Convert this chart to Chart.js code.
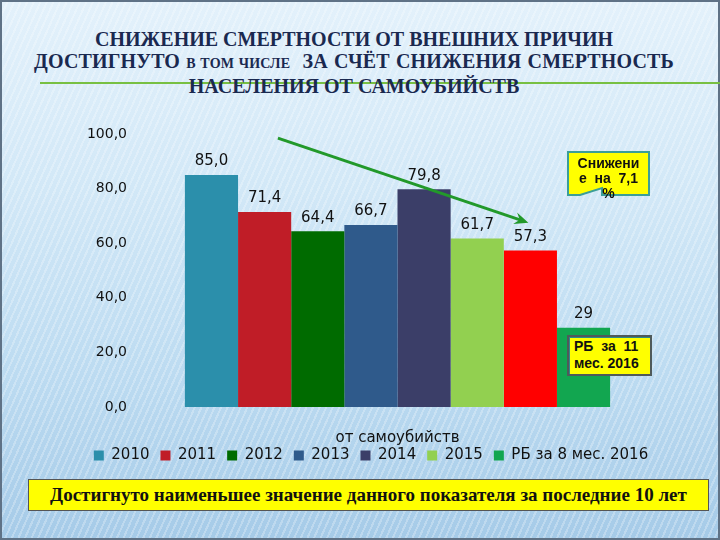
<!DOCTYPE html>
<html lang="ru">
<head>
<meta charset="utf-8">
<script src="https://cdn.jsdelivr.net/npm/chart.js@4.4.0/dist/chart.umd.min.js"></script>
<style>
  html, body { margin: 0; padding: 0; }
  body { width: 720px; height: 540px; overflow: hidden; position: relative; }
  #slide {
    position: absolute; left: 0; top: 0; width: 716px; height: 536px;
    border: 2px solid #5f7286;
    background:
      repeating-linear-gradient(114deg, rgba(255,255,255,0) 0 4px, rgba(255,255,255,0.26) 4px 6px),
      linear-gradient(180deg, #e3f1fb 0%, #d2e8f7 35%, #bcdbf1 70%, #a6cbe8 100%);
  }
  #title {
    position: absolute; left: 0; top: 28px; width: 708px; text-align: center;
    font: bold 20px 'Liberation Serif', serif; line-height: 22px; color: #1a2950;
    z-index: 2;
  }
  #title small { font-size: 14px; }
  #title .l2 { word-spacing: 1px; letter-spacing: 0.15px; }
  #rule { position: absolute; left: 40px; top: 82px; width: 680px; height: 2px; background: #78c043; z-index: 1; }
  #chart { position: absolute; left: 0; top: 0; z-index: 3; }
  .note {
    position: absolute; z-index: 4; font: bold 13px 'Liberation Sans', sans-serif; color: #111;
  }
  #note1 { left: 567px; top: 151px; width: 83px; height: 46px; font-size: 14px; }
  #note1 svg { position: absolute; left: 0; top: 0; }
  #note1 div { position: absolute; left: 0; top: 5px; width: 83px; text-align: center; line-height: 15px; }
  #note2 {
    left: 567px; top: 335px; width: 76px; height: 36px; padding: 1px 0 0 5px;
    background: #ffff00; border: 2px solid #4f5a5a; box-shadow: 1px 1px 0 #2e8a86 inset;
    line-height: 17px; font-size: 14px;
  }
  #bottom {
    position: absolute; left: 28px; top: 479px; width: 679px; height: 30px; z-index: 4;
    background: #ffff00; border: 1px solid #555;
    font: bold 19px 'Liberation Serif', serif; color: #111; text-align: center; line-height: 30px;
  }
</style>
</head>
<body>
<div id="slide"></div>
<div id="title">
  СНИЖЕНИЕ СМЕРТНОСТИ ОТ ВНЕШНИХ ПРИЧИН<br>
  <span class="l2">ДОСТИГНУТО <small>В ТОМ ЧИСЛЕ</small>&nbsp; ЗА СЧЁТ СНИЖЕНИЯ СМЕРТНОСТЬ</span><br>
  НАСЕЛЕНИЯ ОТ САМОУБИЙСТВ
</div>
<div id="rule"></div>
<canvas id="chart" width="720" height="540"></canvas>
<div class="note" id="note1">
  <svg width="84" height="47">
    <polygon points="1,1 82,1 82,44 35,44 35,37 13,44 1,44" fill="#ffff00" stroke="#3b9e98" stroke-width="2"/>
  </svg>
  <div>Снижени<br>е&nbsp; на&nbsp; 7,1<br>%</div>
</div>
<div class="note" id="note2">РБ&nbsp; за&nbsp; 11<br>мес. 2016</div>
<div id="bottom">Достигнуто наименьшее значение данного показателя за последние 10 лет</div>

<script>
// ── Данные
const category   = ['от самоубийств'];
const seriesName = ['2010', '2011', '2012', '2013', '2014', '2015', '2016', 'РБ за 8 мес. 2016'];
const values     = [85.0, 71.4, 64.4, 66.7, 79.8, 61.7, 57.3, 29];
const barLabels  = ['85,0', '71,4', '64,4', '66,7', '79,8', '61,7', '57,3', '29'];
const colors     = ['#2b8fab', '#c01d27', '#006b00', '#2f5a8b', '#3b3e68', '#92d050', '#ff0000', '#12a650'];
const yTicks     = [0, 20, 40, 60, 80, 100];
const hiddenInLegend = ['2016'];

// ── Подписи значений над столбцами
const valueLabels = {
    id: 'valueLabels',
    afterDatasetsDraw(chart) {
        const ctx = chart.ctx;
        ctx.save();
        ctx.font         = '15px "DejaVu Sans"';
        ctx.fillStyle    = '#111';
        ctx.textAlign    = 'center';
        ctx.textBaseline = 'bottom';
        chart.data.datasets.forEach((ds, i) => {
            const bar = chart.getDatasetMeta(i).data[0];
            ctx.fillText(barLabels[i], bar.x, bar.y - 6);
        });
        ctx.restore();
    }
};

// ── Зелёная стрелка тренда (от 2011 к 2016)
const trendArrow = {
    id: 'trendArrow',
    afterDatasetsDraw(chart) {
        const ctx  = chart.ctx;
        const y    = chart.scales.y;
        const b1   = chart.getDatasetMeta(1).data[0];
        const b6   = chart.getDatasetMeta(6).data[0];
        const x0 = b1.x + b1.width * 0.25, y0 = y.getPixelForValue(98.5);
        const x1 = b6.x - 2,               y1 = y.getPixelForValue(67.5);
        const ang = Math.atan2(y1 - y0, x1 - x0);
        const c = Math.cos(ang), s = Math.sin(ang);
        ctx.save();
        ctx.strokeStyle = '#22992a';
        ctx.fillStyle   = '#22992a';
        ctx.lineWidth   = 3;
        ctx.beginPath();
        ctx.moveTo(x0, y0);
        ctx.lineTo(x1 - 8 * c, y1 - 8 * s);
        ctx.stroke();
        ctx.beginPath();
        ctx.moveTo(x1, y1);
        ctx.lineTo(x1 - 14 * c + 6 * s, y1 - 14 * s - 6 * c);
        ctx.lineTo(x1 - 9 * c, y1 - 9 * s);
        ctx.lineTo(x1 - 14 * c - 6 * s, y1 - 14 * s + 6 * c);
        ctx.closePath();
        ctx.fill();
        ctx.restore();
    }
};

const datasets = seriesName.map((name, i) => ({
    label:              name,
    data:               [values[i]],
    backgroundColor:    colors[i],
    borderWidth:        0,
    barPercentage:      1,
    categoryPercentage: 0.842
}));

new Chart(document.getElementById('chart'), {
    type: 'bar',
    data: { labels: category, datasets },
    plugins: [valueLabels, trendArrow],
    options: {
        responsive: false,
        animation:  false,
        layout: { padding: { left: 51, right: 29, top: 134, bottom: 67 } },
        plugins: {
            title:   { display: false },
            tooltip: { enabled: false },
            legend: {
                position: 'bottom',
                labels: {
                    boxWidth:  10,
                    boxHeight: 10,
                    padding:   11,
                    color:     '#111',
                    font:      { family: 'DejaVu Sans', size: 15 },
                    filter:    (item) => !hiddenInLegend.includes(item.text)
                }
            }
        },
        scales: {
            x: {
                grid:   { display: false, drawTicks: false },
                border: { display: false },
                ticks:  { display: false },
                title:  {
                    display: true,
                    text:    category[0],
                    color:   '#111',
                    font:    { family: 'DejaVu Sans', size: 15 },
                    padding: { top: 22, bottom: -10 }
                }
            },
            y: {
                min: 0,
                max: 100,
                grid:   { display: false, drawTicks: false },
                border: { display: false },
                afterBuildTicks: (axis) => { axis.ticks = yTicks.map(v => ({ value: v })); },
                afterFit: (axis) => { axis.width = 94; },
                ticks: {
                    color:    '#111',
                    padding:  18,
                    font:     { family: 'DejaVu Sans', size: 14 },
                    callback: (v) => v.toFixed(1).replace('.', ',')
                }
            },
            yRight: {
                position: 'right',
                grid:   { display: false, drawTicks: false },
                border: { display: false },
                ticks:  { display: false },
                afterFit: (axis) => { axis.width = 41; }
            }
        }
    }
});
</script>
</body>
</html>
